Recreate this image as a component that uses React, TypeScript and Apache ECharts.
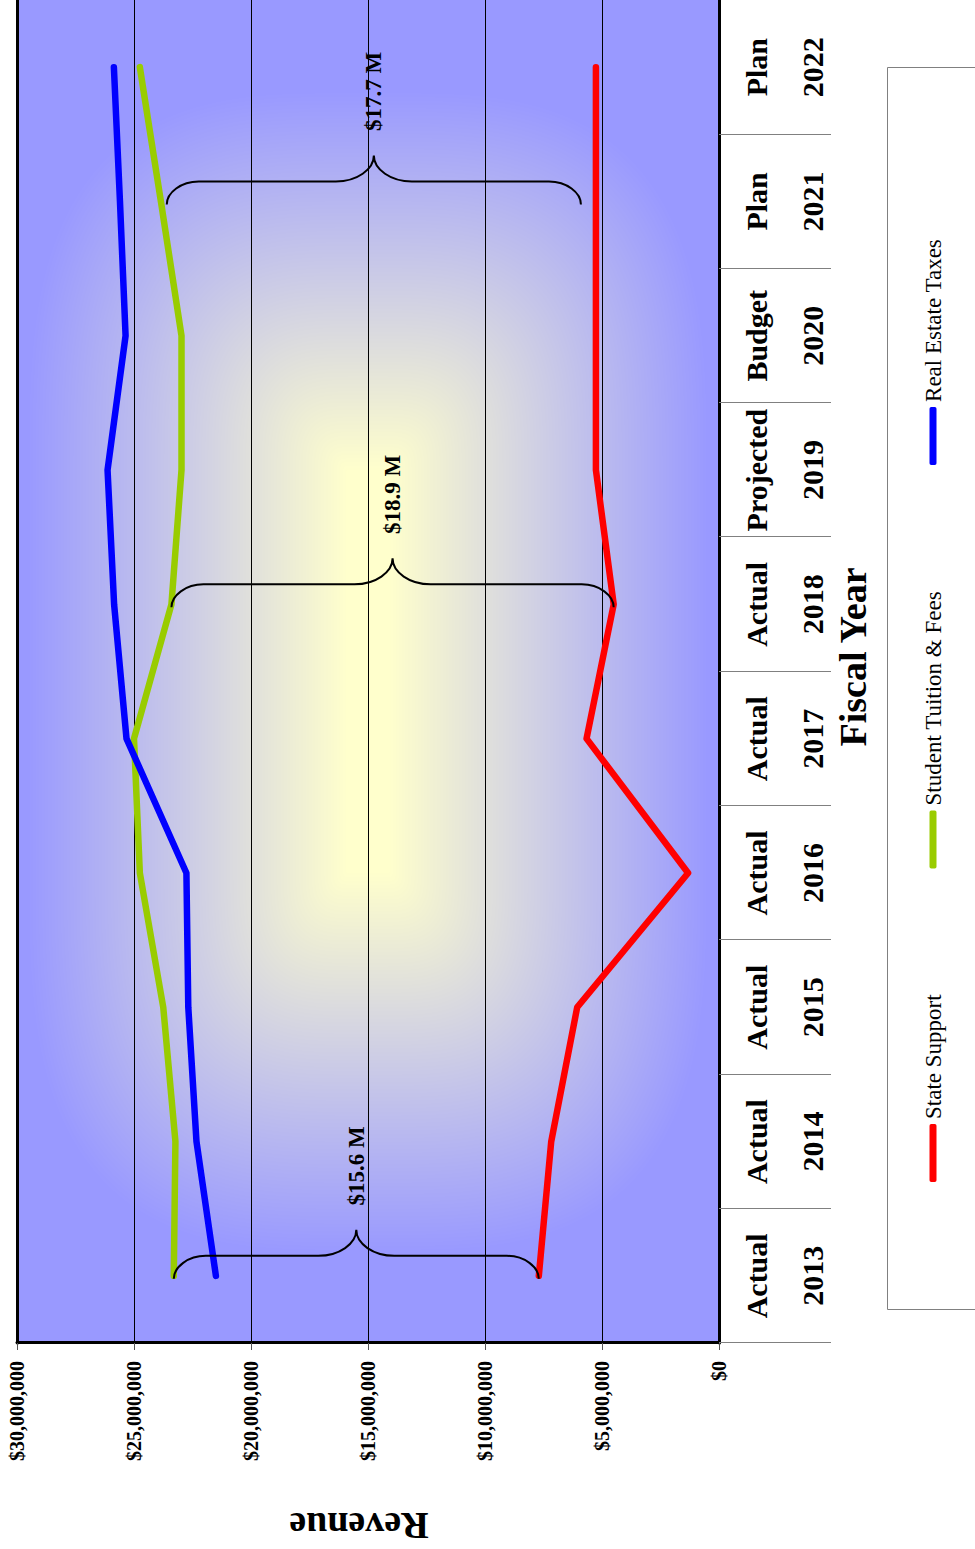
import React, { useEffect, useRef } from "react";
import * as echarts from "echarts";

// ---- data ----
const fiscalYears = ["2013", "2014", "2015", "2016", "2017", "2018", "2019", "2020", "2021", "2022"];
const yearStatus = ["Actual", "Actual", "Actual", "Actual", "Actual", "Actual", "Projected", "Budget", "Plan", "Plan"];

const stateSupport = [7700000, 7170000, 6060000, 1320000, 5660000, 4500000, 5260000, 5260000, 5260000, 5260000];
const studentTuition = [23300000, 23230000, 23750000, 24750000, 25000000, 23400000, 22970000, 22970000, 23850000, 24750000];
const realEstateTaxes = [21500000, 22330000, 22680000, 22760000, 25320000, 25850000, 26130000, 25360000, 25600000, 25860000];

const seriesNames = ["State Support", "Student Tuition & Fees", "Real Estate Taxes"];
const seriesColors = ["#FF0000", "#99CC00", "#0000FF"];

// gap brackets between tuition and state support
const braceYears = ["2013", "2018", "2021"];
const braceHigh = [23300000, 23400000, 23600000];
const braceLow = [7700000, 4500000, 5900000];
const braceLabels = ["$15.6 M", "$18.9 M", "$17.7 M"];

const valueMin = 0;
const valueMax = 30000000;
const valueStep = 5000000;

// ---- layout (chart is drawn landscape, then turned a quarter counter-clockwise) ----
const CHART_W = 1549;
const CHART_H = 975;
const GRID_LEFT = 206;
const GRID_TOP = 17;
const GRID_RIGHT = 0;
const GRID_BOTTOM = 256;
const SERIF = '"Liberation Serif", "Times New Roman", serif';

// centre-out fill: pale yellow in the middle, periwinkle at the rim
function plotBackground(w: number, h: number): string {
  const canvas = document.createElement("canvas");
  canvas.width = w;
  canvas.height = h;
  const ctx = canvas.getContext("2d");
  if (!ctx) return "";
  const img = ctx.createImageData(w, h);
  const inner = [255, 255, 204];
  const outer = [153, 153, 255];
  const cx = w / 2;
  const cy = h / 2;
  const flatX = 200;
  const spanX = 380;
  const flatY = 20;
  const spanY = 320;
  const p = 3;
  for (let y = 0; y < h; y++) {
    const uy = Math.max(0, Math.abs(y + 0.5 - cy) - flatY) / spanY;
    for (let x = 0; x < w; x++) {
      const ux = Math.max(0, Math.abs(x + 0.5 - cx) - flatX) / spanX;
      const t = Math.min(1, Math.pow(Math.pow(ux, p) + Math.pow(uy, p), 1 / p));
      const o = (y * w + x) * 4;
      img.data[o] = inner[0] + (outer[0] - inner[0]) * t;
      img.data[o + 1] = inner[1] + (outer[1] - inner[1]) * t;
      img.data[o + 2] = inner[2] + (outer[2] - inner[2]) * t;
      img.data[o + 3] = 255;
    }
  }
  ctx.putImageData(img, 0, 0);
  return canvas.toDataURL("image/png");
}

function formatDollars(v: number): string {
  return "$" + Math.round(v).toLocaleString("en-US");
}

export default function App() {
  const ref = useRef<HTMLDivElement>(null);

  useEffect(() => {
    if (!ref.current) return;
    const chart = echarts.init(ref.current, null, { renderer: "svg" });

    const plotW = CHART_W - GRID_LEFT - GRID_RIGHT;
    const plotH = CHART_H - GRID_TOP - GRID_BOTTOM;
    const bg = plotBackground(plotW, plotH);

    const valueSeries = [stateSupport, studentTuition, realEstateTaxes].map((data, i) => ({
      type: "line",
      name: seriesNames[i],
      data,
      xAxisIndex: 0,
      yAxisIndex: 0,
      symbol: "none",
      z: 3,
      lineStyle: { color: seriesColors[i], width: 6.5, cap: "round", join: "round" },
      itemStyle: { color: seriesColors[i] },
    }));

    const braceSeries = {
      type: "custom",
      name: "gaps",
      coordinateSystem: "cartesian2d",
      xAxisIndex: 0,
      yAxisIndex: 0,
      silent: true,
      z: 6,
      data: braceYears.map((yr, i) => [fiscalYears.indexOf(yr), braceHigh[i], braceLow[i]]),
      encode: { x: 0, y: [1, 2] },
      renderItem: (params: any, api: any) => {
        const idx = api.value(0);
        const top = api.coord([idx, api.value(1)]);
        const bot = api.coord([idx, api.value(2)]);
        const a = top[0] - 3;
        const b = a + 23;
        const c = a + 49;
        const y1 = top[1];
        const y2 = bot[1];
        const ym = (y1 + y2) / 2;
        const r = 32;
        const r2 = 38;
        const d =
          `M${a},${y1} C${a + 12},${y1} ${b},${y1 + r * 0.45} ${b},${y1 + r} ` +
          `L${b},${ym - r2} C${b},${ym - r2 * 0.45} ${c - 14},${ym} ${c},${ym} ` +
          `C${c - 14},${ym} ${b},${ym + r2 * 0.45} ${b},${ym + r2} ` +
          `L${b},${y2 - r} C${b},${y2 - r * 0.45} ${a + 12},${y2} ${a},${y2}`;
        return {
          type: "group",
          children: [
            {
              type: "path",
              shape: { pathData: d },
              style: { fill: "none", stroke: "#000", lineWidth: 2 },
            },
            {
              type: "text",
              x: c + 64,
              y: ym,
              style: {
                text: braceLabels[params.dataIndex],
                fontFamily: SERIF,
                fontWeight: "bold",
                fontSize: 23,
                fill: "#000",
                align: "center",
                verticalAlign: "middle",
              },
            },
          ],
        };
      },
    };

    const option: any = {
      animation: false,
      textStyle: { fontFamily: SERIF },
      grid: { left: GRID_LEFT, top: GRID_TOP, right: GRID_RIGHT, bottom: GRID_BOTTOM, containLabel: false },
      xAxis: [
        {
          type: "category",
          data: fiscalYears,
          position: "bottom",
          boundaryGap: true,
          axisLine: { show: true, onZero: false, lineStyle: { color: "#000", width: 3 } },
          axisTick: { show: true, interval: 0, length: 112, lineStyle: { color: "#808080", width: 1 } },
          axisLabel: {
            interval: 0,
            margin: 9,
            formatter: (v: string, i: number) => `${yearStatus[i]}\n${v}`,
            fontFamily: SERIF,
            fontSize: 30,
            fontWeight: "bold",
            color: "#000",
            lineHeight: 56,
          },
          splitLine: { show: false },
        },
        {
          type: "category",
          data: fiscalYears,
          position: "top",
          boundaryGap: true,
          axisLine: { show: true, onZero: false, lineStyle: { color: "#000", width: 3 } },
          axisTick: { show: false },
          axisLabel: { show: false },
          splitLine: { show: false },
        },
      ],
      yAxis: {
        type: "value",
        min: valueMin,
        max: valueMax,
        interval: valueStep,
        axisLine: { show: true, onZero: false, lineStyle: { color: "#000", width: 3 } },
        axisTick: { show: true, length: 7, lineStyle: { color: "#555", width: 1 } },
        axisLabel: {
          margin: 18,
          formatter: formatDollars,
          fontFamily: SERIF,
          fontSize: 20,
          fontWeight: "bold",
          color: "#000",
        },
        splitLine: { show: true, lineStyle: { color: "#000", width: 1 } },
      },
      legend: {
        data: seriesNames,
        orient: "horizontal",
        left: 362,
        top: 916,
        icon: "roundRect",
        itemWidth: 58,
        itemHeight: 7,
        itemGap: 126,
        selectedMode: false,
        textStyle: { fontFamily: SERIF, fontSize: 23, color: "#000", lineHeight: 24 },
      },
      graphic: {
        elements: [
          {
            type: "image",
            silent: true,
            z: -100,
            style: { image: bg, x: GRID_LEFT, y: GRID_TOP, width: plotW, height: plotH },
          },
          {
            type: "rect",
            silent: true,
            z: -50,
            shape: { x: 239.5, y: 887.5, width: 1242, height: 200 },
            style: { fill: "none", stroke: "#808080", lineWidth: 1 },
          },
          {
            type: "text",
            silent: true,
            x: 892,
            y: 853,
            style: {
              text: "Fiscal Year",
              fontFamily: SERIF,
              fontWeight: "bold",
              fontSize: 38,
              fill: "#000",
              align: "center",
              verticalAlign: "middle",
            },
          },
          {
            type: "text",
            silent: true,
            x: 23,
            y: 359,
            rotation: Math.PI / 2,
            style: {
              text: "Revenue",
              fontFamily: SERIF,
              fontWeight: "bold",
              fontSize: 38,
              fill: "#000",
              align: "center",
              verticalAlign: "middle",
            },
          },
        ],
      },
      series: [...valueSeries, braceSeries],
    };

    chart.setOption(option);
    return () => {
      chart.dispose();
    };
  }, []);

  return (
    <div
      style={{
        position: "absolute",
        left: 0,
        top: 0,
        width: CHART_H,
        height: CHART_W,
        overflow: "hidden",
        background: "#fff",
      }}
    >
      <div
        ref={ref}
        style={{
          position: "absolute",
          left: 0,
          top: 0,
          width: CHART_W,
          height: CHART_H,
          transformOrigin: "0 0",
          transform: `translateY(${CHART_W}px) rotate(-90deg)`,
        }}
      />
    </div>
  );
}
